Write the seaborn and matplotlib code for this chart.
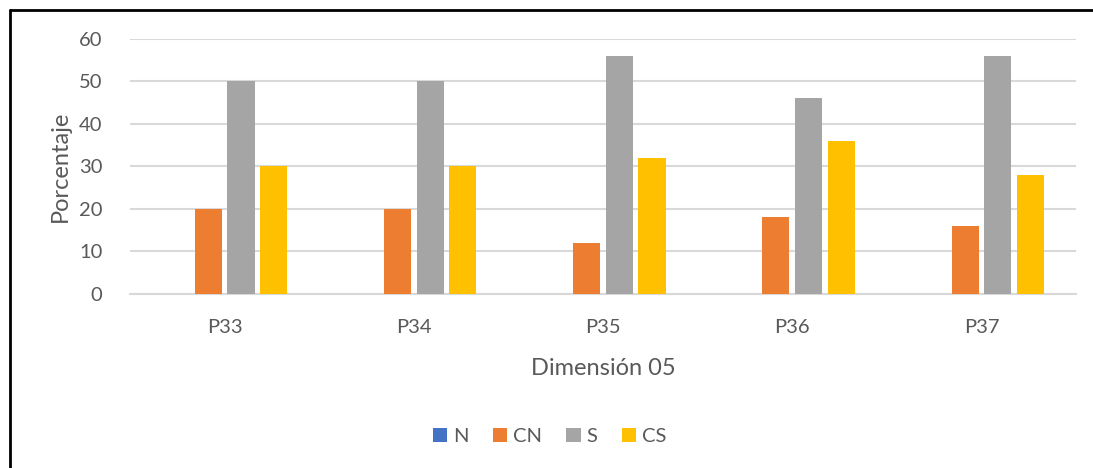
import matplotlib
matplotlib.use("Agg")
import matplotlib.pyplot as plt
from matplotlib.lines import Line2D
from matplotlib.patches import Patch
import seaborn as sns
import pandas as pd

# Survey results for dimension 05 (percent per response option)
preguntas = ["P33", "P34", "P35", "P36", "P37"]
series = ["N", "CN", "S", "CS"]
valores_N = [0, 0, 0, 0, 0]
valores_CN = [20, 20, 12, 18, 16]
valores_S = [50, 50, 56, 46, 56]
valores_CS = [30, 30, 32, 36, 28]
colores = ["#4472C4", "#ED7D31", "#A5A5A5", "#FFC000"]

rows = []
for serie, vals in zip(series, [valores_N, valores_CN, valores_S, valores_CS]):
    for p, v in zip(preguntas, vals):
        rows.append({"Pregunta": p, "Serie": serie, "Valor": v})
df = pd.DataFrame(rows)

sns.set_style("white")
plt.rcParams["font.family"] = ["Lato", "DejaVu Sans"]
txt = "#595959"

fig = plt.figure(figsize=(10.93, 4.68), dpi=100)
ax = fig.add_axes([0.119, 0.3718, 0.8655, 0.5449])

sns.barplot(data=df, x="Pregunta", y="Valor", hue="Serie", order=preguntas,
            hue_order=series, palette=colores, width=0.69, gap=0.17,
            saturation=1, legend=False, ax=ax, zorder=3, linewidth=0)

ax.set_ylim(0, 60)
ax.set_yticks(range(0, 61, 10))
ax.set_xlim(-0.5, len(preguntas) - 0.5)
ax.yaxis.grid(True, color="#d9d9d9", linewidth=1.5, zorder=0)
ax.set_axisbelow(True)
for s in ["top", "right", "left"]:
    ax.spines[s].set_visible(False)
ax.spines["bottom"].set_color("#d9d9d9")
ax.spines["bottom"].set_linewidth(1.5)
ax.tick_params(axis="both", length=0, labelsize=14.5, colors=txt)
ax.tick_params(axis="y", pad=20)
ax.tick_params(axis="x", pad=18)
ax.set_ylabel("Porcentaje", fontsize=17, color=txt, labelpad=6)
ax.set_xlabel("Dimensión 05", fontsize=17, color=txt, labelpad=16)

handles = [Patch(facecolor=c, edgecolor="none") for c in colores]
fig.legend(handles, series, loc="center", bbox_to_anchor=(0.503, 0.068),
           ncol=4, frameon=False, fontsize=14.5, labelcolor=txt,
           handlelength=0.7, handleheight=0.7, handletextpad=0.3,
           columnspacing=1.2)

# Outer frame lines (left and top)
fig.add_artist(Line2D([0.0095, 0.0095], [0, 0.979], color="black", linewidth=2,
                      transform=fig.transFigure))
fig.add_artist(Line2D([0.0095, 1.0], [0.979, 0.979], color="black", linewidth=2,
                      transform=fig.transFigure))

fig.savefig("out.png", dpi=100, facecolor="white")
